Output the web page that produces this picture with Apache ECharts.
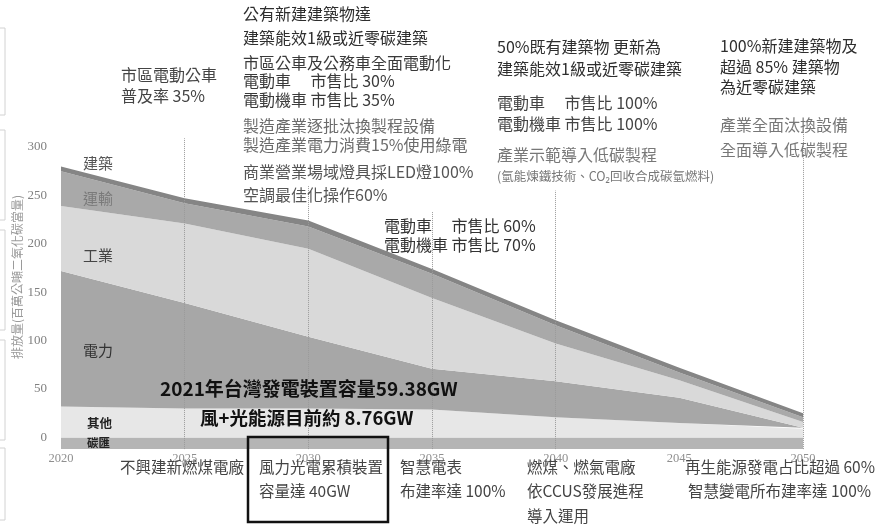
<!DOCTYPE html>
<html><head><meta charset="utf-8">
<script src="https://cdn.jsdelivr.net/npm/echarts@6/dist/echarts.min.js"></script>
<style>html,body{margin:0;padding:0;background:#fff}#c{width:888px;height:529px}</style>
</head><body><div id="c"></div>
<script>
// ---- data (million tonnes CO2e) ----
const years = ['2020','2025','2030','2035','2040','2045','2050'];
const sink      = [-12,-12,-12,-12,-12,-12,-12];   // 碳匯
const other     = [32, 30, 30, 29, 21, 15, 9];     // 其他
const power     = [140,109, 74, 42, 37, 26, 1];    // 電力
const industry  = [67, 82, 91, 73, 39, 18, 6];     // 工業
const transport = [36, 21, 23, 25, 19, 8, 5];      // 運輸
const building  = [5, 5, 6, 5, 5, 5, 4];           // 建築
const yTicks = [0, 50, 100, 150, 200, 250, 300];
const guideYears = ['2025','2030','2035','2040','2050'];
const guideTops  = [309, 260, 233, 255, 318];

const CJK = '"Noto Sans CJK TC","Noto Sans CJK SC","Noto Sans",sans-serif';
const SERIF = '"Liberation Serif","DejaVu Serif",serif';
function T(text, x, y, size, color, weight) {
  return {type:'text', x:x, y:y, silent:true, z:100,
    style:{text:text, fill:color||'#3a3a3a', fontSize:size||16, fontFamily:CJK,
           fontWeight:weight||'normal', align:'left', verticalAlign:'middle'}};
}
function area(name, data, color) {
  return {name:name, type:'line', stack:'total', data:data, symbol:'none', showSymbol:false,
    lineStyle:{width:0, color:color}, areaStyle:{color:color, opacity:1}, silent:true};
}
const chart = echarts.init(document.getElementById('c'));
const bld = area('建築', building, '#858585');
bld.markLine = {silent:true, symbol:['none','none'], label:{show:false}, z:5,
  lineStyle:{type:'dotted', color:'#9a9a9a', width:1},
  data: guideYears.map((y,i)=>[{coord:[y, sink[0]]},{coord:[y, guideTops[i]]}])};

const brackets = [[28,115],[130,220],[230,330],[340,440],[448,520]].map(b=>({
  type:'polyline', silent:true, shape:{points:[[0,b[0]],[5,b[0]],[5,b[1]],[0,b[1]]]},
  style:{stroke:'#d2d2d2', fill:null, lineWidth:1}}));

chart.setOption({
  animation:false,
  backgroundColor:'#fff',
  grid:{left:61, right:85, top:129.6, bottom:79.9, containLabel:false},
  xAxis:{type:'category', data:years, boundaryGap:false,
    axisLine:{show:false}, axisTick:{show:false}, splitLine:{show:false},
    axisLabel:{fontFamily:SERIF, fontSize:12.5, color:'#8f8f8f', margin:3}},
  yAxis:{type:'value', min:-12, max:318, splitNumber:6,
    axisLine:{show:false}, axisTick:{show:false}, splitLine:{show:false},
    axisLabel:{fontFamily:SERIF, fontSize:13, color:'#808080', margin:14,
      formatter:v=> yTicks.indexOf(v) >= 0 ? String(v) : ''}},
  series:[
    area('碳匯', sink, '#b5b5b5'),
    area('其他', other, '#e7e7e7'),
    area('電力', power, '#a7a7a7'),
    area('工業', industry, '#d9d9d9'),
    area('運輸', transport, '#a9a9a9'),
    bld
  ],
  graphic:[].concat(brackets, [
    {type:'text', x:17, y:277, rotation:Math.PI/2, silent:true,
     style:{text:'排放量(百萬公噸二氧化碳當量)', fill:'#9a9a9a', fontSize:12, fontFamily:CJK, align:'center', verticalAlign:'middle'}},
    T('市區電動公車', 121, 75, 16, '#444'),
    T('普及率 35%', 121, 96, 16, '#444'),
    T('公有新建建築物達', 243, 14, 16, '#2e2e2e'),
    T('建築能效1級或近零碳建築', 243, 38, 16, '#2e2e2e'),
    T('市區公車及公務車全面電動化', 243, 63, 16, '#3a3a3a'),
    T('電動車　 市售比 30%', 243, 81, 16, '#3a3a3a'),
    T('電動機車 市售比 35%', 243, 100, 16, '#3a3a3a'),
    T('製造產業逐批汰換製程設備', 243, 126, 16, '#6b6b6b'),
    T('製造產業電力消費15%使用綠電', 243, 145, 16, '#6b6b6b'),
    T('商業營業場域燈具採LED燈100%', 243, 172, 16, '#555'),
    T('空調最佳化操作60%', 243, 195, 16, '#555'),
    T('50%既有建築物 更新為', 497, 47, 16, '#2e2e2e'),
    T('建築能效1級或近零碳建築', 497, 69, 16, '#2e2e2e'),
    T('電動車　 市售比 100%', 497, 103, 16, '#444'),
    T('電動機車 市售比 100%', 497, 124, 16, '#444'),
    T('產業示範導入低碳製程', 497, 155, 16, '#777'),
    T('(氫能煉鐵技術、CO₂回收合成碳氫燃料)', 497, 176, 12.5, '#777'),
    T('100%新建建築物及', 720, 46, 16, '#2e2e2e'),
    T('超過 85% 建築物', 720, 67, 16, '#2e2e2e'),
    T('為近零碳建築', 720, 87, 16, '#2e2e2e'),
    T('產業全面汰換設備', 720, 125, 16, '#777'),
    T('全面導入低碳製程', 720, 150, 16, '#777'),
    T('電動車　 市售比 60%', 384, 226, 16, '#333'),
    T('電動機車 市售比 70%', 384, 245, 16, '#333'),
    T('建築', 83, 163, 15, '#555'),
    T('運輸', 83, 198, 15, '#7a7a7a'),
    T('工業', 83, 255, 15, '#444'),
    T('電力', 83, 350, 15, '#333'),
    T('其他', 87, 423, 12.5, '#222', 'bold'),
    T('碳匯', 87, 443, 11.5, '#222', 'bold'),
    T('2021年台灣發電裝置容量59.38GW', 160, 389, 19, '#111', 'bold'),
    T('風+光能源目前約 8.76GW', 200, 418, 18.5, '#111', 'bold'),
    T('不興建新燃煤電廠', 120, 467, 15.5, '#444'),
    T('風力光電累積裝置', 259, 467, 15.5, '#444'),
    T('容量達 40GW', 259, 491, 15.5, '#444'),
    T('智慧電表', 400, 467, 15.5, '#444'),
    T('布建率達 100%', 400, 491, 15.5, '#444'),
    T('燃煤、燃氣電廠', 527, 467, 15.5, '#444'),
    T('依CCUS發展進程', 527, 491, 15.5, '#444'),
    T('導入運用', 527, 516, 15.5, '#444'),
    T('再生能源發電占比超過 60%', 685, 467, 15.5, '#444'),
    T('智慧變電所布建率達 100%', 688, 491, 15.5, '#444'),
    {type:'rect', silent:true, z:100, shape:{x:248, y:437, width:140, height:85},
     style:{fill:null, stroke:'#111', lineWidth:2.5}}
  ])
});
</script></body></html>
